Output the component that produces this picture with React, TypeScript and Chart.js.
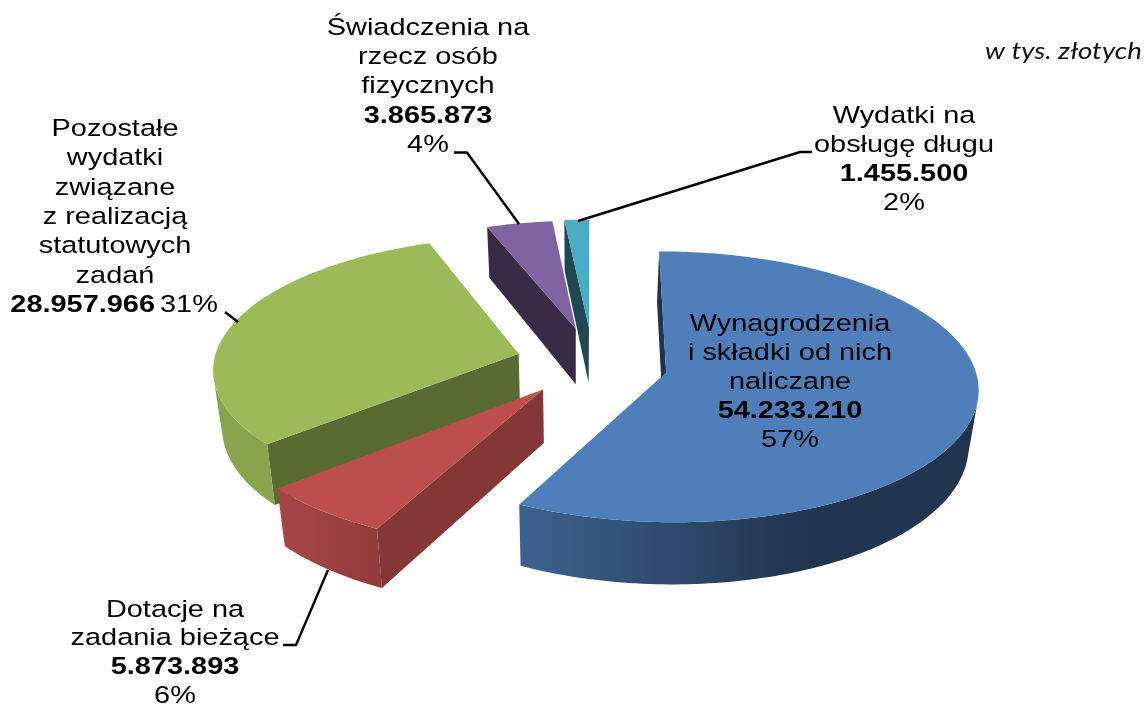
import React, { useEffect, useRef } from "react";
import { Chart, registerables } from "chart.js";

Chart.register(...registerables);

// ---- data ----
const categoryLines = [
  ["Wynagrodzenia", "i składki od nich", "naliczane"],
  ["Dotacje na", "zadania bieżące"],
  ["Pozostałe", "wydatki", "związane", "z realizacją", "statutowych", "zadań"],
  ["Świadczenia na", "rzecz osób", "fizycznych"],
  ["Wydatki na", "obsługę długu"],
];
const values = [54233210, 5873893, 28957966, 3865873, 1455500];
const unitNote = "w tys. złotych";

// ---- style ----
const topColors = ["#4f7fba", "#bc4f4c", "#9bbb59", "#8064a2", "#4bacc6"];
const cutShade = [0.41, 0.7, 0.57, 0.43, 0.42];
const explode = [0.245, 0.26, 0.25, 0.275, 0.28];
const radiusScale = [1.01, 1.03, 1, 0.955, 0.955];
const depthScale = [0.97, 0.92, 1, 1, 1];
const nudge = [[0, 0], [0, -3], [-1, -3], [1, -2], [0, -2]];
const drawOrder = [2, 3, 4, 0, 1];
const PROJ = { cx: 593, cy: 365, rx: 305, sy: 131, k: 0.104, depth: 57, vx: 575, shrink: 0.975 };
const FONT = '"Liberation Sans", Arial, sans-serif';
const SIZE = 24.5;
const STRETCH = 1.18;

const labelBoxes = [
  { x: 790, y: 331, step: 29 },
  { x: 175, y: 616.5, step: 28.7 },
  { x: 115, y: 136, step: 29.3 },
  { x: 428, y: 35, step: 29.2 },
  { x: 904, y: 123, step: 29 },
];
const leaders = [
  null,
  [[328, 570], [296, 645], [283, 645]],
  [[225, 312], [238, 322]],
  [[454, 152.5], [467, 152.5], [519, 224]],
  [[578, 221], [800, 152], [812, 152]],
];

const total = values.reduce((a, b) => a + b, 0);
const dotted = (n: number) => String(n).replace(/\B(?=(\d{3})+$)/g, ".");
const percent = (n: number) => Math.round((n / total) * 100) + "%";

function hexShade(hex: string, f: number) {
  const n = parseInt(hex.slice(1), 16);
  const c = [(n >> 16) & 255, (n >> 8) & 255, n & 255].map((v) => Math.round(v * f));
  return `rgb(${c[0]},${c[1]},${c[2]})`;
}

type P = [number, number];
function projectTop(u: number, v: number): P {
  const w = 1 / (1 - PROJ.k * v);
  return [PROJ.cx + PROJ.rx * u * w, PROJ.cy + PROJ.sy * v * w];
}
function projectBottom(u: number, v: number, d: number): P {
  const w = 1 / (1 - PROJ.k * v);
  const [x, y] = projectTop(u, v);
  return [PROJ.vx + (x - PROJ.vx) * PROJ.shrink, y + PROJ.depth * d * w];
}
function signedArea(pts: P[]) {
  let s = 0;
  for (let i = 0; i < pts.length; i++) {
    const a = pts[i];
    const b = pts[(i + 1) % pts.length];
    s += a[0] * b[1] - b[0] * a[1];
  }
  return s;
}
function fillPoly(ctx: CanvasRenderingContext2D, pts: P[], color: any) {
  ctx.beginPath();
  pts.forEach((p, i) => (i ? ctx.lineTo(p[0], p[1]) : ctx.moveTo(p[0], p[1])));
  ctx.closePath();
  ctx.fillStyle = color;
  ctx.fill();
}

const pie3d = {
  id: "pie3d",
  beforeDatasetsDraw(chart: any) {
    const ctx: CanvasRenderingContext2D = chart.ctx;
    const arcs = chart.getDatasetMeta(0).data;
    ctx.save();
    for (const i of drawOrder) {
      const arc = arcs[i];
      const start = arc.startAngle + Math.PI / 2;
      const end = arc.endAngle + Math.PI / 2;
      const mid = (start + end) / 2;
      const ox = Math.sin(mid) * explode[i];
      const oy = -Math.cos(mid) * explode[i];
      const R = radiusScale[i];
      const D = depthScale[i];
      const world = (t: number): P => [ox + R * Math.sin(t), oy - R * Math.cos(t)];
      const steps = Math.max(6, Math.ceil((end - start) / 0.02));
      const ts = Array.from({ length: steps + 1 }, (_, n) => start + ((end - start) * n) / steps);
      const [dx, dy] = nudge[i];
      const shift = (p: P): P => [p[0] + dx, p[1] + dy];

      const topApex = shift(projectTop(ox, oy));
      const botApex = shift(projectBottom(ox, oy, D));
      const tops = ts.map((t) => shift(projectTop(...world(t))));
      const bots = ts.map((t) => {
        const [u, v] = world(t);
        return shift(projectBottom(u, v, D));
      });
      const base = topColors[i];
      const cut = hexShade(base, cutShade[i]);

      const faceS: P[] = [topApex, tops[0], bots[0], botApex];
      const faceE: P[] = [tops[steps], topApex, botApex, bots[steps]];
      if (signedArea(faceS) < 0) fillPoly(ctx, faceS, cut);
      if (signedArea(faceE) < 0) fillPoly(ctx, faceE, cut);

      // outer wall: one polygon over the visible run, shaded along x
      const visible: number[] = [];
      for (let n = 0; n < steps; n++) {
        if (signedArea([tops[n], tops[n + 1], bots[n + 1], bots[n]]) < 0) visible.push(n);
      }
      if (visible.length) {
        const first = visible[0];
        const last = visible[visible.length - 1] + 1;
        const xs = tops.slice(first, last + 1).map((p) => p[0]);
        const x0 = Math.min(...xs);
        const x1 = Math.max(...xs);
        const grad = ctx.createLinearGradient(x0, 0, x1, 0);
        for (let n = first; n <= last; n += 4) {
          const s = Math.sin(ts[n]);
          const f = Math.min(0.88, Math.max(0.42, 0.58 - 0.42 * s));
          grad.addColorStop((tops[n][0] - x0) / Math.max(1, x1 - x0), hexShade(base, f));
        }
        const poly: P[] = [...tops.slice(first, last + 1), ...bots.slice(first, last + 1).reverse()];
        fillPoly(ctx, poly, grad);
      }
      fillPoly(ctx, [topApex, ...tops], base);
    }
    ctx.restore();
    return false;
  },
  afterDraw(chart: any) {
    const ctx: CanvasRenderingContext2D = chart.ctx;
    const put = (text: string, x: number, y: number, bold = false, align: CanvasTextAlign = "center") => {
      ctx.save();
      ctx.translate(x, y);
      ctx.scale(STRETCH, 1);
      ctx.font = `${bold ? "bold " : ""}${SIZE}px ${FONT}`;
      ctx.textAlign = align;
      ctx.textBaseline = "alphabetic";
      ctx.fillStyle = "#000";
      ctx.fillText(text, 0, 0);
      ctx.restore();
    };
    ctx.save();
    ctx.strokeStyle = "#000";
    ctx.lineWidth = 2.4;
    ctx.lineJoin = "round";
    leaders.forEach((pts) => {
      if (!pts) return;
      ctx.beginPath();
      pts.forEach((p, i) => (i ? ctx.lineTo(p[0], p[1]) : ctx.moveTo(p[0], p[1])));
      ctx.stroke();
    });
    ctx.restore();

    categoryLines.forEach((lines, i) => {
      const box = labelBoxes[i];
      let y = box.y;
      lines.forEach((l) => {
        put(l, box.x, y);
        y += box.step;
      });
      if (i === 2) {
        put(dotted(values[i]), 155, y, true, "right");
        put(percent(values[i]), 160, y, false, "left");
      } else {
        put(dotted(values[i]), box.x, y, true);
        y += box.step;
        put(percent(values[i]), box.x, y);
      }
    });

    ctx.save();
    ctx.font = 'italic 24px Lato, sans-serif';
    ctx.textAlign = "left";
    ctx.fillStyle = "#111";
    const w = ctx.measureText(unitNote).width;
    ctx.translate(985, 59);
    ctx.scale(157 / w, 1);
    ctx.fillText(unitNote, 0, 0);
    ctx.restore();
  },
};

export default function App() {
  const ref = useRef<HTMLCanvasElement>(null);
  useEffect(() => {
    const chart = new Chart(ref.current!, {
      type: "pie",
      data: {
        labels: categoryLines.map((l) => l.join(" ")),
        datasets: [{ data: values, backgroundColor: topColors, borderWidth: 0 }],
      },
      options: {
        animation: false,
        responsive: false,
        plugins: { legend: { display: false }, tooltip: { enabled: false } },
      },
      plugins: [pie3d],
    } as any);
    return () => chart.destroy();
  }, []);
  return (
    <canvas
      ref={ref}
      width={1146}
      height={704}
      style={{ position: "absolute", left: 0, top: 0, display: "block" }}
    />
  );
}
